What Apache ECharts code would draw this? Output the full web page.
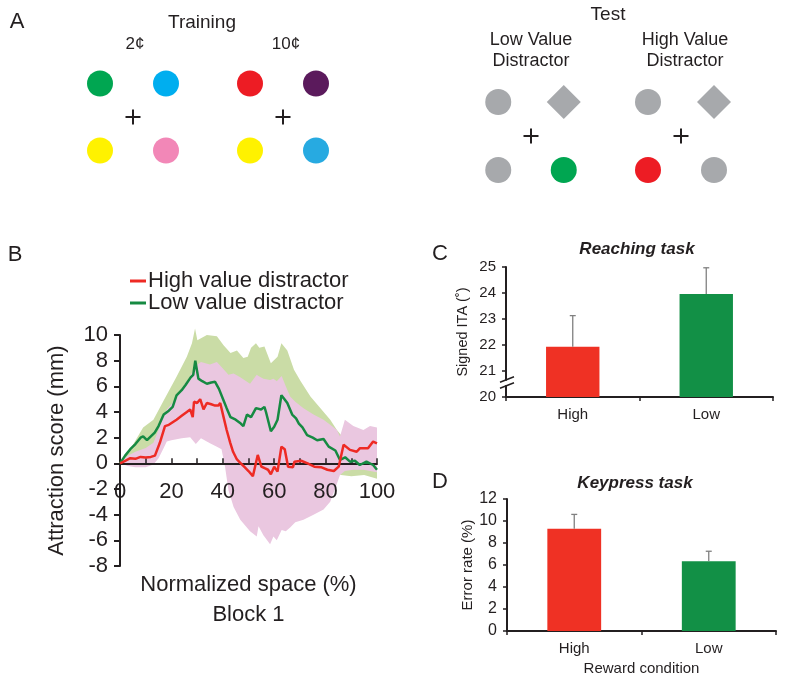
<!DOCTYPE html>
<html><head><meta charset="utf-8">
<script src="https://cdn.jsdelivr.net/npm/echarts@6/dist/echarts.min.js"></script>
<style>html,body{margin:0;padding:0;background:#fff}#c{width:785px;height:683px}</style>
</head><body><div id="c"></div>
<script>
// ---------- Panel B: attraction score curves ----------
const highLineX = [0,2,4,6,8,10,12,13.6,15.5,17.5,19,20.5,22,24,26,27.3,28.3,28.8,30,31.2,32.5,33.8,35.5,37,38.3,39,40.3,41.5,42.9,44,45.5,47,48.5,50,51.7,53.6,55,56.5,57.6,58.7,60,61.3,62.8,64.1,65.4,67.3,67.9,70.5,73,75.6,78.2,80.7,83.2,85.1,87,89.5,92.1,93.3,96.5,98.5,100];
const highLineY = [0,0.2,0.4,0.35,0.5,0.45,0.5,0.6,1.6,2.9,3.0,3.2,3.4,3.7,4.0,4.2,3.6,4.8,4.7,5.0,4.2,4.7,4.6,4.5,4.5,4.7,3.6,2.6,1.6,0.9,0.3,0.0,-0.3,-0.6,-1.0,0.65,-0.25,-0.4,-0.5,-0.85,-0.26,-0.65,1.3,1.1,-0.26,-0.3,0.13,0.2,0.0,-0.26,-0.3,-0.5,-0.6,-0.26,1.45,1.05,0.9,1.17,1.17,1.7,1.56];
const lowLineX = [0,2,4,6,8,9,10.5,12,13.5,15,17,19,20.5,22,24,25.5,27.5,28.5,29.3,30.5,32,33.8,35.5,37,38.5,40.3,41.5,43,45,47,48,49.4,51,52.9,54.9,56.2,56.8,58.7,60,60.6,61.3,62.8,64,65.1,67,68.5,69.6,71,72.8,75,76.7,79.2,81.2,83.8,85.6,87.6,89.5,91.4,93.3,95.9,98.5,100];
const lowLineY = [0,0.6,1.1,1.5,2.0,2.1,1.8,2.1,2.4,2.9,3.8,4.1,4.4,5.3,5.7,6.1,6.7,6.9,8.0,6.6,6.4,6.2,6.3,6.35,5.8,4.9,4.3,3.6,3.4,3.1,2.9,3.8,3.6,4.3,4.2,4.4,4.0,2.5,2.85,2.7,3.4,5.3,5.0,4.7,3.8,3.5,3.1,2.8,2.2,2.0,1.8,1.9,1.3,1.0,0.26,0.47,0.13,0.2,-0.13,0.13,-0.13,-0.5];
// confidence bands
const lowBandX  = [0,4,9,13,17,22,26,28,29.2,30.1,33.8,37.7,40.3,43,45.5,48,49.7,51,52.9,54.2,56.2,58.7,61.3,62.8,65.1,67.7,70.3,74.1,78,81.8,84.4,86,90,95,100];
const lowBandHi = [0,1.1,2.8,3.4,4.9,6.75,8.3,9.35,10.5,9.6,10.0,9.9,9.2,8.6,8.8,8.2,8.3,9.0,9.35,9.0,9.1,7.8,8.3,9.35,8.8,7.3,6.4,5.2,4.3,3.4,2.6,2.2,1.6,1.2,0.8];
const lowBandLo = [0,0.2,0.6,1.0,2.0,3.0,4.0,4.5,5.2,4.5,4.0,3.5,2.5,1.5,0.5,0.0,0.0,0.2,0.3,0.3,0.5,0.0,0.0,1.0,0.8,0.5,0.2,0,-0.3,-0.5,-0.8,-0.9,-1.0,-0.9,-1.2];
const highBandX  = [0,3,6,10,13,15,17,18.2,20,22,24,27.3,29.5,31.5,35,37.7,39.5,40.9,42.2,44.2,46.8,50.6,53.2,53.9,55.8,58.4,59.7,61,62.9,64.5,66.2,68.2,71.4,75.3,79.2,81.8,84.4,85.6,87.5,90.8,94.7,97.3,100];
const highBandHi = [0,0.6,0.9,1.2,1.6,2.6,3.8,4.2,4.6,5.2,5.8,6.8,7.6,7.9,7.7,7.9,7.5,7.2,6.9,7.0,6.7,6.2,6.9,6.8,6.6,6.5,6.6,6.4,6.8,6.0,5.2,4.8,4.3,3.8,3.4,3.0,2.6,2.1,3.4,2.9,2.6,2.9,2.8];
const highBandLo = [0,-0.2,-0.3,-0.3,-0.1,0.4,1.2,1.7,1.8,1.87,1.95,2.03,1.5,1.95,1.56,1.3,1.1,-0.3,-2.1,-3.4,-4.4,-5.3,-5.7,-4.9,-5.6,-6.3,-5.7,-6.0,-5.2,-5.3,-5.0,-4.6,-4.4,-4.0,-3.6,-3.0,-1.6,-0.9,-0.6,-0.5,-0.5,-0.6,-0.7];
const bYMin = -8, bYMax = 10, bYStep = 2;
const bXMin = 0, bXMax = 100, bXStep = 10;

// ---------- Panels C & D ----------
const conditions = ['High', 'Low'];
const reachMean = [21.93, 23.96];
const reachErr  = [1.2, 1.01];
const keyMean   = [9.3, 6.35];
const keyErr    = [1.3, 0.9];

// ---------- Panel A: stimulus displays ----------
const displayPos = [[-1, 1], [1, 1], [-1, -1], [1, -1]];
const train2Colors  = ['#00a651', '#00aeef', '#fff200', '#f287b7'];
const train10Colors = ['#ed1c24', '#5b1a5c', '#fff200', '#27aae1'];
const GREY = '#a7a9ac';
const trainShapes     = ['circle', 'circle', 'circle', 'circle'];
const testLowShapes   = ['circle', 'diamond', 'circle', 'circle'];
const testLowColors   = [GREY, GREY, GREY, '#00a651'];
const testHighShapes  = ['circle', 'diamond', 'circle', 'circle'];
const testHighColors  = [GREY, GREY, '#ed1c24', GREY];

const FONT = 'Liberation Sans, Arial, sans-serif';
const INK = '#231f20';
const RED_LINE = '#ee2a24', GREEN_LINE = '#168a42';
const RED_BAR = '#ef3124', GREEN_BAR = '#129046';

const GRID_B = { left: 120, top: 335, width: 257, height: 231 };

function zip(xs, ys) { const n = Math.min(xs.length, ys.length); const o = []; for (let i = 0; i < n; i++) o.push([xs[i], ys[i]]); return o; }

function bandSeries(xs, lo, hi, color, z) {
  const n = Math.min(xs.length, lo.length, hi.length);
  const data = [];
  for (let i = 0; i < n; i++) data.push([xs[i], lo[i], hi[i]]);
  return {
    type: 'custom', xAxisIndex: 0, yAxisIndex: 0, silent: true, z: z,
    data: data, encode: { x: 0, y: [1, 2] },
    renderItem: function (params, api) {
      if (params.dataIndex !== 0) return null;
      const pts = [];
      for (let i = 0; i < n; i++) pts.push(api.coord([data[i][0], data[i][2]]));
      for (let i = n - 1; i >= 0; i--) pts.push(api.coord([data[i][0], data[i][1]]));
      return { type: 'polygon', shape: { points: pts }, style: { fill: color } };
    }
  };
}

function errSeries(axisIdx, means, errs) {
  return {
    type: 'custom', xAxisIndex: axisIdx, yAxisIndex: axisIdx, silent: true, z: 5,
    data: means.map((m, i) => [i, m, errs[i]]), encode: { x: 0, y: 1 },
    renderItem: function (params, api) {
      const x = api.value(0), m = api.value(1), e = api.value(2);
      const p0 = api.coord([x, m]), p1 = api.coord([x, m + e]);
      const st = { stroke: '#808080', lineWidth: 1.3 };
      return { type: 'group', children: [
        { type: 'line', shape: { x1: p0[0], y1: p0[1], x2: p1[0], y2: p1[1] }, style: st },
        { type: 'line', shape: { x1: p1[0] - 3, y1: p1[1], x2: p1[0] + 3, y2: p1[1] }, style: st }
      ] };
    }
  };
}

const crossPath = 'path://M0,6.5L15,6.5L15,8.5L0,8.5Z M6.5,0L8.5,0L8.5,15L6.5,15Z';
function displaySeries(idx, shapes, colors) {
  const data = displayPos.map((p, i) => ({
    value: p, symbol: shapes[i], symbolSize: shapes[i] === 'diamond' ? 34 : 26,
    itemStyle: { color: colors[i], opacity: 1 }
  }));
  data.push({ value: [0, 0], symbol: crossPath, symbolSize: 15, itemStyle: { color: INK, opacity: 1 } });
  return { type: 'scatter', xAxisIndex: idx, yAxisIndex: idx, silent: true, data: data,
           itemStyle: { opacity: 1 } };
}

function valueLabel(size, margin) { return { fontSize: size, margin: margin, color: INK, fontFamily: FONT }; }
function solidLine(w) { return { show: true, onZero: false, lineStyle: { color: INK, width: w } }; }

function txt(text, x, y, size, extra) {
  return Object.assign({ type: 'text', x: x, y: y, style: Object.assign({
    text: text, fill: INK, fontSize: size, fontFamily: FONT,
    align: 'center', verticalAlign: 'middle', textAlign: 'center', textVerticalAlign: 'middle'
  }, extra || {}) });
}

function hiddenAxes() { return [3, 4, 5, 6].map(i => ({ gridIndex: i, type: 'value', min: -2, max: 2, show: false })); }
function gridBox(g) { return Object.assign({ containLabel: false, outerBoundsMode: 'none' }, g); }

// x axis of panel B sits at y = 0 (offset from the grid bottom, derived from the y range)
const bZeroOffset = -GRID_B.height * (0 - bYMin) / (bYMax - bYMin);

const option = {
  animation: false,
  textStyle: { fontFamily: FONT, color: INK },
  grid: [
    GRID_B,
    { left: 506, top: 267, width: 267, height: 130 },
    { left: 507, top: 499, width: 269, height: 132 },
    { left: 67, top: 50, width: 132, height: 134 },
    { left: 217, top: 50, width: 132, height: 134 },
    { left: 465.5, top: 68, width: 131, height: 136 },
    { left: 615, top: 68, width: 132, height: 136 }
  ].map(gridBox),
  legend: {
    data: ['High value distractor', 'Low value distractor'],
    orient: 'vertical', left: 130, top: 270, padding: 0,
    itemWidth: 16, itemHeight: 3, itemGap: 0, icon: 'rect', selectedMode: false,
    textStyle: { fontSize: 22, color: INK, fontFamily: FONT, padding: [0, 0, 0, -3] }
  },
  xAxis: [
    { gridIndex: 0, type: 'value', min: bXMin, max: bXMax, interval: bXStep,
      offset: bZeroOffset, z: 3,
      axisLine: { show: true, onZero: false, lineStyle: { color: INK, width: 2 } },
      axisTick: { show: true, inside: true, length: 5, lineStyle: { color: INK, width: 1.5 } },
      axisLabel: Object.assign(valueLabel(22, 18), { formatter: v => (v % 20 === 0 ? String(v) : '') }),
      splitLine: { show: false },
      name: 'Normalized space (%)\nBlock 1', nameLocation: 'middle', nameGap: 107,
      nameTextStyle: { fontSize: 22, lineHeight: 30, color: INK, fontFamily: FONT } },
    { gridIndex: 1, type: 'category', data: conditions,
      axisLine: solidLine(2), axisTick: { show: true, length: 4, lineStyle: { color: INK, width: 1.5 } },
      axisLabel: valueLabel(15, 10) },
    { gridIndex: 2, type: 'category', data: conditions,
      axisLine: solidLine(2), axisTick: { show: true, length: 4, lineStyle: { color: INK, width: 1.5 } },
      axisLabel: valueLabel(15, 10),
      name: 'Reward condition', nameLocation: 'middle', nameGap: 30,
      nameTextStyle: { fontSize: 15, color: INK, fontFamily: FONT } }
  ].concat(hiddenAxes()),
  yAxis: [
    { gridIndex: 0, type: 'value', min: bYMin, max: bYMax, interval: bYStep, z: 3,
      axisLine: solidLine(2), axisTick: { show: true, length: 6, lineStyle: { color: INK, width: 2 } },
      axisLabel: valueLabel(22, 12), splitLine: { show: false },
      name: 'Attraction score (mm)', nameLocation: 'middle', nameGap: 52,
      nameTextStyle: { fontSize: 22, color: INK, fontFamily: FONT } },
    { gridIndex: 1, type: 'value', min: 20, max: 25, interval: 1,
      axisLine: solidLine(2), axisTick: { show: true, length: 4, lineStyle: { color: INK, width: 1.5 } },
      axisLabel: valueLabel(15, 10), splitLine: { show: false },
      name: 'Signed ITA (\u02DA)', nameLocation: 'middle', nameGap: 36,
      nameTextStyle: { fontSize: 14.5, color: INK, fontFamily: FONT } },
    { gridIndex: 2, type: 'value', min: 0, max: 12, interval: 2,
      axisLine: solidLine(2), axisTick: { show: true, length: 4, lineStyle: { color: INK, width: 1.5 } },
      axisLabel: valueLabel(16, 10), splitLine: { show: false },
      name: 'Error rate (%)', nameLocation: 'middle', nameGap: 30,
      nameTextStyle: { fontSize: 15, color: INK, fontFamily: FONT } }
  ].concat(hiddenAxes()),
  series: [
    bandSeries(lowBandX, lowBandLo, lowBandHi, '#cadca6', 1),
    bandSeries(highBandX, highBandLo, highBandHi, '#eac7e0', 2),
    { name: 'Low value distractor', type: 'line', xAxisIndex: 0, yAxisIndex: 0, z: 5,
      data: zip(lowLineX, lowLineY), showSymbol: false, color: GREEN_LINE,
      lineStyle: { color: GREEN_LINE, width: 2.5 } },
    { name: 'High value distractor', type: 'line', xAxisIndex: 0, yAxisIndex: 0, z: 6,
      data: zip(highLineX, highLineY), showSymbol: false, color: RED_LINE,
      lineStyle: { color: RED_LINE, width: 2.5 } },
    { type: 'bar', xAxisIndex: 1, yAxisIndex: 1, barWidth: '40%', silent: true,
      data: reachMean.map((v, i) => ({ value: v, itemStyle: { color: i === 0 ? RED_BAR : GREEN_BAR } })) },
    errSeries(1, reachMean, reachErr),
    { type: 'custom', xAxisIndex: 1, yAxisIndex: 1, silent: true, z: 6, data: [[0, 20.55]],
      renderItem: function (params, api) {
        const p = api.coord([0, api.value(1)]);
        const x = params.coordSys.x, y = p[1];
        const st = { stroke: INK, lineWidth: 1.5 };
        return { type: 'group', children: [
          { type: 'rect', shape: { x: x - 2.5, y: y - 2, width: 5, height: 4.5 }, style: { fill: '#fff' } },
          { type: 'line', shape: { x1: x - 6, y1: y - 0.5, x2: x + 8, y2: y - 6 }, style: st },
          { type: 'line', shape: { x1: x - 6, y1: y + 5.5, x2: x + 8, y2: y }, style: st }
        ] };
      } },
    { type: 'bar', xAxisIndex: 2, yAxisIndex: 2, barWidth: '40%', silent: true,
      data: keyMean.map((v, i) => ({ value: v, itemStyle: { color: i === 0 ? RED_BAR : GREEN_BAR } })) },
    errSeries(2, keyMean, keyErr),
    displaySeries(3, trainShapes, train2Colors),
    displaySeries(4, trainShapes, train10Colors),
    displaySeries(5, testLowShapes, testLowColors),
    displaySeries(6, testHighShapes, testHighColors)
  ],
  graphic: [
    txt('A', 17, 22, 22),
    txt('Training', 202, 23, 19),
    txt('2\u00A2', 135, 44, 17),
    txt('10\u00A2', 286, 44, 17),
    txt('Test', 608, 15, 19),
    txt('Low Value\nDistractor', 531, 51, 18, { lineHeight: 21 }),
    txt('High Value\nDistractor', 685, 51, 18, { lineHeight: 21 }),
    txt('B', 15, 255, 22),
    txt('C', 440, 254, 22),
    txt('Reaching task', 637, 249, 17, { fontWeight: 'bold', fontStyle: 'italic' }),
    txt('D', 440, 482, 22),
    txt('Keypress task', 635, 483, 17, { fontWeight: 'bold', fontStyle: 'italic' })
  ]
};

const chart = echarts.init(document.getElementById('c'), null, { renderer: 'canvas' });
chart.setOption(option);
</script></body></html>
